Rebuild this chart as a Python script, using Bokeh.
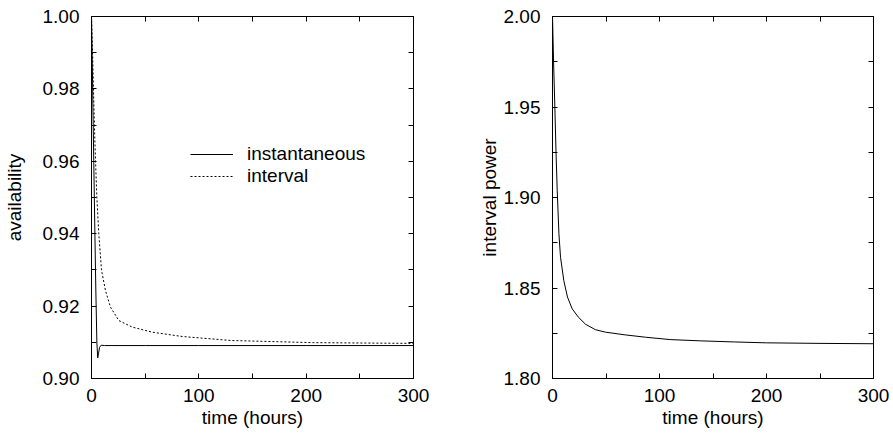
from bokeh.plotting import figure
from bokeh.layouts import row
from bokeh.models import Range1d, LinearAxis, FixedTicker, PrintfTickFormatter, Legend, LegendItem
from bokeh.embed import file_html
from bokeh.resources import INLINE

# ---- data ----
inst_t = [0, 1, 2, 3, 4, 5, 5.8, 6.5, 7.5, 9, 12, 20, 50, 100, 200, 300]
inst_v = [1.0, 0.982, 0.962, 0.943, 0.925, 0.910, 0.9057, 0.9068, 0.9086, 0.9092,
          0.9091, 0.9091, 0.9091, 0.9091, 0.9091, 0.9091]

intv_t = [0, 1, 2, 3, 4, 5, 6.8, 9.3, 13, 17.7, 25.5, 38, 56.5, 84.5, 130, 207, 300]
intv_v = [1.0, 0.990, 0.978, 0.967, 0.958, 0.950, 0.940, 0.930, 0.9243, 0.9197,
          0.9160, 0.9142, 0.9128, 0.9116, 0.9105, 0.9099, 0.9097]

pow_t = [0, 1, 2.2, 3.3, 4.4, 6, 7.5, 10.6, 14, 18.4, 24, 30.8, 40, 49.5, 68, 87,
         110, 138, 170, 200, 250, 300]
pow_v = [2.0, 1.975, 1.950, 1.925, 1.904, 1.880, 1.867, 1.854, 1.845, 1.8385, 1.834,
         1.830, 1.827, 1.8256, 1.8241, 1.8228, 1.8215, 1.8208, 1.8202, 1.8197,
         1.8194, 1.8192]

x_ticks = [0, 100, 200, 300]
x_minor = [50, 150, 250]
avail_ticks = [0.90, 0.92, 0.94, 0.96, 0.98, 1.00]
avail_minor = [0.91, 0.93, 0.95, 0.97, 0.99]
pow_ticks = [1.80, 1.85, 1.90, 1.95, 2.00]
pow_minor = [1.825, 1.875, 1.925, 1.975]

FONT = "Liberation Sans"
FS = "19px"


def style_axis(ax, ticks, minor, fmt, standoff, label_standoff=0):
    ax.ticker = FixedTicker(ticks=ticks, minor_ticks=minor)
    ax.formatter = PrintfTickFormatter(format=fmt)
    ax.major_tick_in = 5
    ax.major_tick_out = 0
    ax.minor_tick_in = 5
    ax.minor_tick_out = 0
    ax.axis_line_color = "black"
    ax.major_tick_line_color = "black"
    ax.minor_tick_line_color = "black"
    ax.major_label_text_font = FONT
    ax.major_label_text_font_size = FS
    ax.major_label_text_color = "black"
    ax.major_label_standoff = standoff
    ax.axis_label_text_font = FONT
    ax.axis_label_text_font_size = FS
    ax.axis_label_text_font_style = "normal"
    ax.axis_label_text_color = "black"
    ax.axis_label_standoff = label_standoff


def mirror_axis(ticks, minor):
    # no major ticks -> no labels; all positions drawn as (equal-length) minor ticks
    ax = LinearAxis(ticker=FixedTicker(ticks=[], minor_ticks=ticks + minor))
    ax.minor_tick_in = 5
    ax.minor_tick_out = 0
    ax.major_tick_in = 0
    ax.major_tick_out = 0
    ax.major_label_standoff = 0
    ax.axis_label_standoff = 0
    ax.axis_line_color = "black"
    ax.minor_tick_line_color = "black"
    return ax


def make_fig(width, border_left, border_right, y_range, yticks, yminor, ylabel, ylabel_standoff):
    p = figure(width=width, height=432, output_backend="svg", toolbar_location=None,
               x_range=Range1d(0, 300), y_range=Range1d(*y_range),
               min_border_left=border_left, min_border_right=border_right,
               min_border_top=16, min_border_bottom=54)
    p.grid.visible = False
    p.outline_line_color = "black"
    p.background_fill_color = "white"
    p.border_fill_color = "white"
    p.xaxis.axis_label = "time (hours)"
    p.yaxis.axis_label = ylabel
    style_axis(p.xaxis[0], x_ticks, x_minor, "%d", 10, label_standoff=2)
    style_axis(p.yaxis[0], yticks, yminor, "%.2f", 12, label_standoff=ylabel_standoff)
    p.add_layout(mirror_axis(x_ticks, x_minor), "above")
    p.add_layout(mirror_axis(yticks, yminor), "right")
    return p


p1 = make_fig(466, 91, 53, (0.90, 1.00), avail_ticks, avail_minor, "availability", 15)
r_inst = p1.line(inst_t, inst_v, line_color="black", line_width=1)
r_intv = p1.line(intv_t, intv_v, line_color="black", line_width=1, line_dash="2 2")
legend = Legend(items=[LegendItem(label="instantaneous", renderers=[r_inst]),
                       LegendItem(label="interval", renderers=[r_intv])],
                location=(99, 191))
legend.glyph_width = 43
legend.glyph_height = 20
legend.label_standoff = 14
legend.padding = 0
legend.margin = 0
legend.spacing = 0
legend.border_line_color = None
legend.background_fill_alpha = 0
legend.label_text_font = FONT
legend.label_text_font_size = FS
legend.label_text_color = "black"
p1.add_layout(legend, "center")

p2 = make_fig(425, 86, 18, (1.80, 2.00), pow_ticks, pow_minor, "interval power", 1)
p2.line(pow_t, pow_v, line_color="black", line_width=1)

layout = row(p1, p2)
open("out.html", "w").write(file_html(layout, INLINE))
